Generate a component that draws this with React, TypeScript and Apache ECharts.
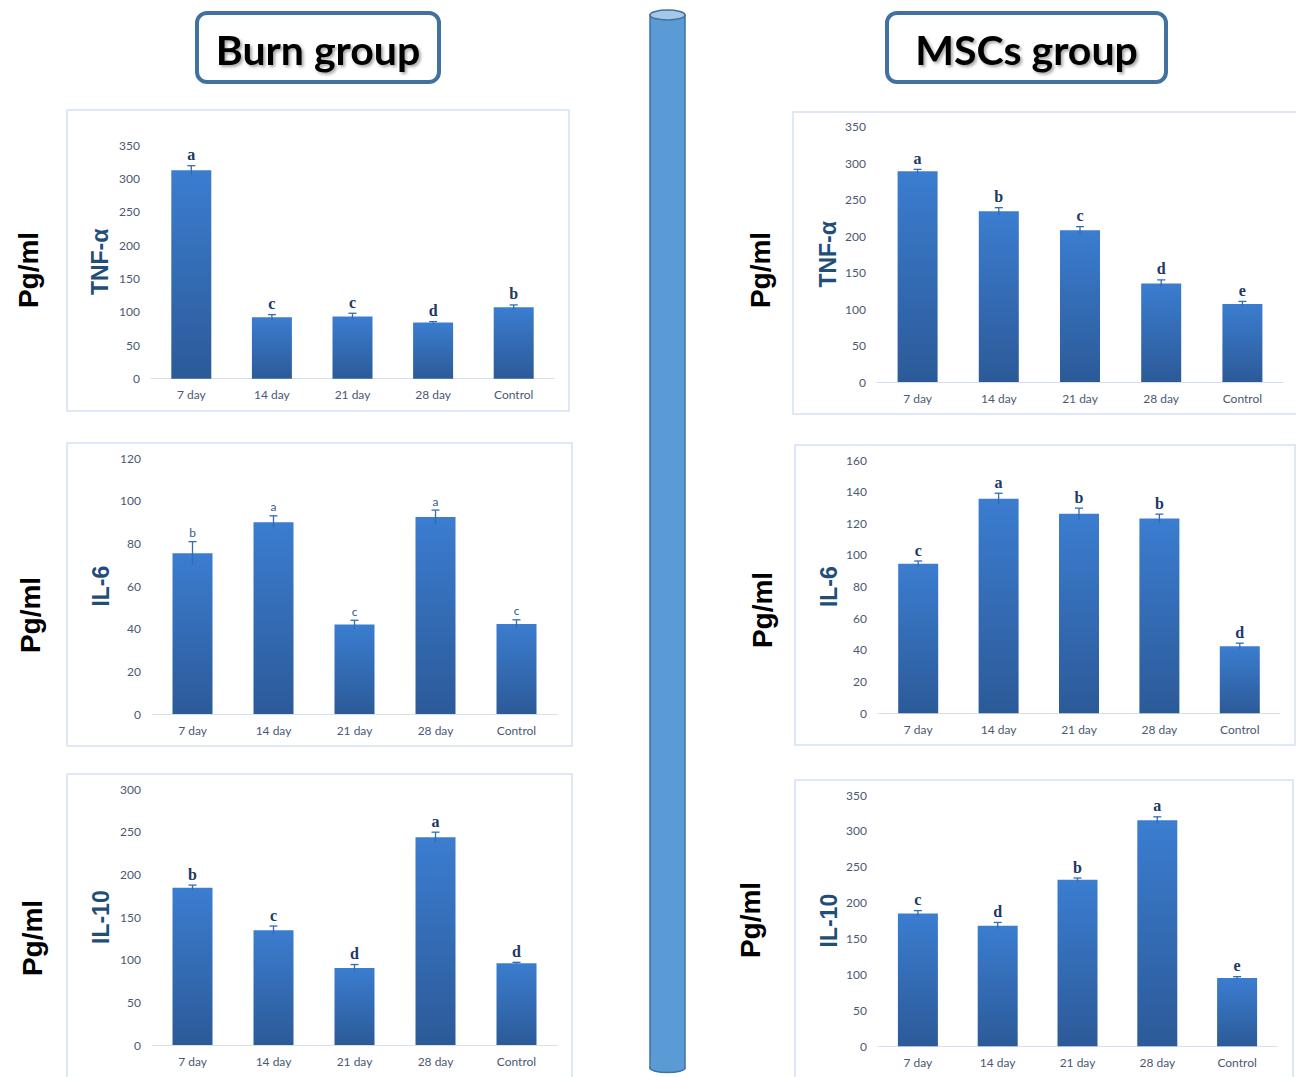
import React, { useEffect, useRef } from "react";
import * as echarts from "echarts";

const categories = ["7 day", "14 day", "21 day", "28 day", "Control"];

const burnTnf = [312, 92, 93, 84, 107];
const burnTnfErr = [7, 4, 5, 1.5, 3.5];
const burnTnfLetters = ["a", "c", "c", "d", "b"];

const mscTnf = [289, 234, 208, 135, 107];
const mscTnfErr = [2.5, 5, 5, 5, 3.5];
const mscTnfLetters = ["a", "b", "c", "d", "e"];

const burnIl6 = [75.4, 90, 42, 92.4, 42.2];
const burnIl6Err = [5.5, 3, 2, 3.3, 2];
const burnIl6Letters = ["b", "a", "c", "a", "c"];

const mscIl6 = [94.5, 135.6, 126, 123, 42.3];
const mscIl6Err = [1.7, 3.4, 3.6, 2.8, 2];
const mscIl6Letters = ["c", "a", "b", "b", "d"];

const burnIl10 = [184.6, 134.6, 90.4, 243.7, 96];
const burnIl10Err = [3, 5, 4, 6, 1];
const burnIl10Letters = ["b", "c", "d", "a", "d"];

const mscIl10 = [185, 168, 232, 315, 95];
const mscIl10Err = [4, 4.5, 2.4, 4.6, 2];
const mscIl10Letters = ["c", "d", "b", "a", "e"];

const panels = [
  { name: "TNF-α", values: burnTnf, errs: burnTnfErr, letters: burnTnfLetters, max: 350, interval: 50, grid: { left: 151, top: 145, width: 403, height: 233.7 }, nameGap: 40, serifLetters: true, box: [67, 110, 502, 301] },
  { name: "TNF-α", values: mscTnf, errs: mscTnfErr, letters: mscTnfLetters, max: 350, interval: 50, grid: { left: 877, top: 126.7, width: 406, height: 255.3 }, nameGap: 38, serifLetters: true, box: [793, 112, 520, 302] },
  { name: "IL-6", values: burnIl6, errs: burnIl6Err, letters: burnIl6Letters, max: 120, interval: 20, grid: { left: 152, top: 458.3, width: 405, height: 255.7 }, nameGap: 40, serifLetters: false, box: [67, 443, 505, 303] },
  { name: "IL-6", values: mscIl6, errs: mscIl6Err, letters: mscIl6Letters, max: 160, interval: 20, grid: { left: 878, top: 460, width: 402, height: 253.3 }, nameGap: 38, serifLetters: true, box: [795, 445, 500, 300] },
  { name: "IL-10", values: burnIl10, errs: burnIl10Err, letters: burnIl10Letters, max: 300, interval: 50, grid: { left: 152, top: 789.3, width: 405, height: 255.7 }, nameGap: 40, serifLetters: true, box: [67, 774, 505, 320] },
  { name: "IL-10", values: mscIl10, errs: mscIl10Err, letters: mscIl10Letters, max: 350, interval: 50, grid: { left: 878, top: 795, width: 399, height: 251.3 }, nameGap: 38, serifLetters: true, box: [795, 780, 498, 320] },
];

const pgLabels = [
  [28, 270], [30, 615], [32, 938],
  [760, 270], [762, 610], [750, 920],
];

export default function App() {
  const ref = useRef<HTMLDivElement>(null);
  useEffect(() => {
    if (!ref.current) return;
    const chart = echarts.init(ref.current, null, { renderer: "svg" });
    const tickColor = "#4A5874";
    const grids: any[] = [];
    const xAxes: any[] = [];
    const yAxes: any[] = [];
    const series: any[] = [];
    const graphics: any[] = [];

    panels.forEach((p) => {
      graphics.push({
        type: "rect",
        z: 0,
        shape: { x: p.box[0], y: p.box[1], width: p.box[2], height: p.box[3] },
        style: { fill: "#fff", stroke: "#D3E1F3", lineWidth: 1.5 },
      });
    });

    panels.forEach((p, k) => {
      grids.push({ ...p.grid, containLabel: false });
      xAxes.push({
        type: "category",
        gridIndex: k,
        data: categories,
        axisLine: { lineStyle: { color: "#D5E1F1", width: 1.2 } },
        axisTick: { show: false },
        axisLabel: { color: tickColor, fontSize: 12, fontFamily: "Lato", margin: 10 },
      });
      yAxes.push({
        type: "value",
        gridIndex: k,
        min: 0,
        max: p.max,
        interval: p.interval,
        name: p.name,
        nameLocation: "middle",
        nameGap: p.nameGap,
        nameTextStyle: { color: "#1F4E79", fontSize: 23, fontWeight: "bold", fontFamily: "Liberation Sans" },
        axisLine: { show: false },
        axisTick: { show: false },
        splitLine: { show: false },
        axisLabel: { color: tickColor, fontSize: 12, fontFamily: "Lato", margin: 11 },
      });
      series.push({
        type: "bar",
        xAxisIndex: k,
        yAxisIndex: k,
        barWidth: 40,
        data: p.values,
        itemStyle: {
          color: new echarts.graphic.LinearGradient(0, 0, 0, 1, [
            { offset: 0, color: "#3B7DD0" },
            { offset: 1, color: "#2C5A98" },
          ]),
        },
      });
      const letters = p.letters;
      const serif = p.serifLetters;
      series.push({
        type: "custom",
        xAxisIndex: k,
        yAxisIndex: k,
        z: 5,
        data: p.values.map((v, i) => [i, v, p.errs[i]]),
        renderItem: (params: any, api: any) => {
          const i = api.value(0);
          const v = api.value(1);
          const e = api.value(2);
          const top = api.coord([i, v + e]);
          const bot = api.coord([i, v - e]);
          return {
            type: "group",
            children: [
              { type: "line", shape: { x1: top[0], y1: top[1], x2: bot[0], y2: bot[1] }, style: { stroke: "#2F6DB8", lineWidth: 1.3 } },
              { type: "line", shape: { x1: top[0] - 4, y1: top[1], x2: top[0] + 4, y2: top[1] }, style: { stroke: "#2F6DB8", lineWidth: 1.3 } },
              {
                type: "text",
                x: top[0],
                y: top[1] - 3,
                style: serif
                  ? { text: letters[params.dataIndex], fill: "#203864", font: "bold 16px 'Liberation Serif'", align: "center", verticalAlign: "bottom" }
                  : { text: letters[params.dataIndex], fill: "#3D5A8A", font: "12px Lato", align: "center", verticalAlign: "bottom" },
              },
            ],
          };
        },
      });
    });

    const headers = [
      { text: "Burn group", x: 197, w: 242 },
      { text: "MSCs group", x: 887, w: 279 },
    ];
    headers.forEach((h) => {
      graphics.push({
        type: "rect",
        z: 10,
        shape: { x: h.x, y: 13, width: h.w, height: 69, r: 10 },
        style: { fill: "#fff", stroke: "#41729F", lineWidth: 4 },
      });
      graphics.push({
        type: "text",
        z: 11,
        x: h.x + h.w / 2,
        y: 49,
        style: {
          text: h.text,
          font: "bold 41px Lato",
          fill: "#000",
          align: "center",
          verticalAlign: "middle",
          textShadowColor: "rgba(0,0,0,0.35)",
          textShadowBlur: 3,
          textShadowOffsetX: 2,
          textShadowOffsetY: 2,
        },
      });
    });

    graphics.push({
      type: "rect",
      z: 10,
      shape: { x: 650, y: 15, width: 35, height: 1053 },
      style: { fill: "#5B9BD5", stroke: "#41729F", lineWidth: 1.5 },
    });
    graphics.push({
      type: "ellipse",
      z: 11,
      shape: { cx: 667.5, cy: 1068, rx: 17.5, ry: 4.5 },
      style: { fill: "#5B9BD5", stroke: "#41729F", lineWidth: 1.5 },
    });
    graphics.push({
      type: "rect",
      z: 12,
      shape: { x: 650.8, y: 1062, width: 33.4, height: 6 },
      style: { fill: "#5B9BD5" },
    });
    graphics.push({
      type: "ellipse",
      z: 13,
      shape: { cx: 667.5, cy: 15, rx: 17.5, ry: 5 },
      style: { fill: "#A6C8E8", stroke: "#41729F", lineWidth: 1.5 },
    });

    pgLabels.forEach((pos) => {
      graphics.push({
        type: "text",
        z: 10,
        x: pos[0],
        y: pos[1],
        rotation: Math.PI / 2,
        style: { text: "Pg/ml", font: "bold 28px 'Liberation Sans'", fill: "#000", align: "center", verticalAlign: "middle" },
      });
    });

    chart.setOption({
      animation: false,
      backgroundColor: "#fff",
      grid: grids,
      xAxis: xAxes,
      yAxis: yAxes,
      series,
      graphic: { elements: graphics },
    });
    return () => chart.dispose();
  }, []);
  return <div ref={ref} style={{ position: "absolute", left: 0, top: 0, width: 1296, height: 1077 }} />;
}
